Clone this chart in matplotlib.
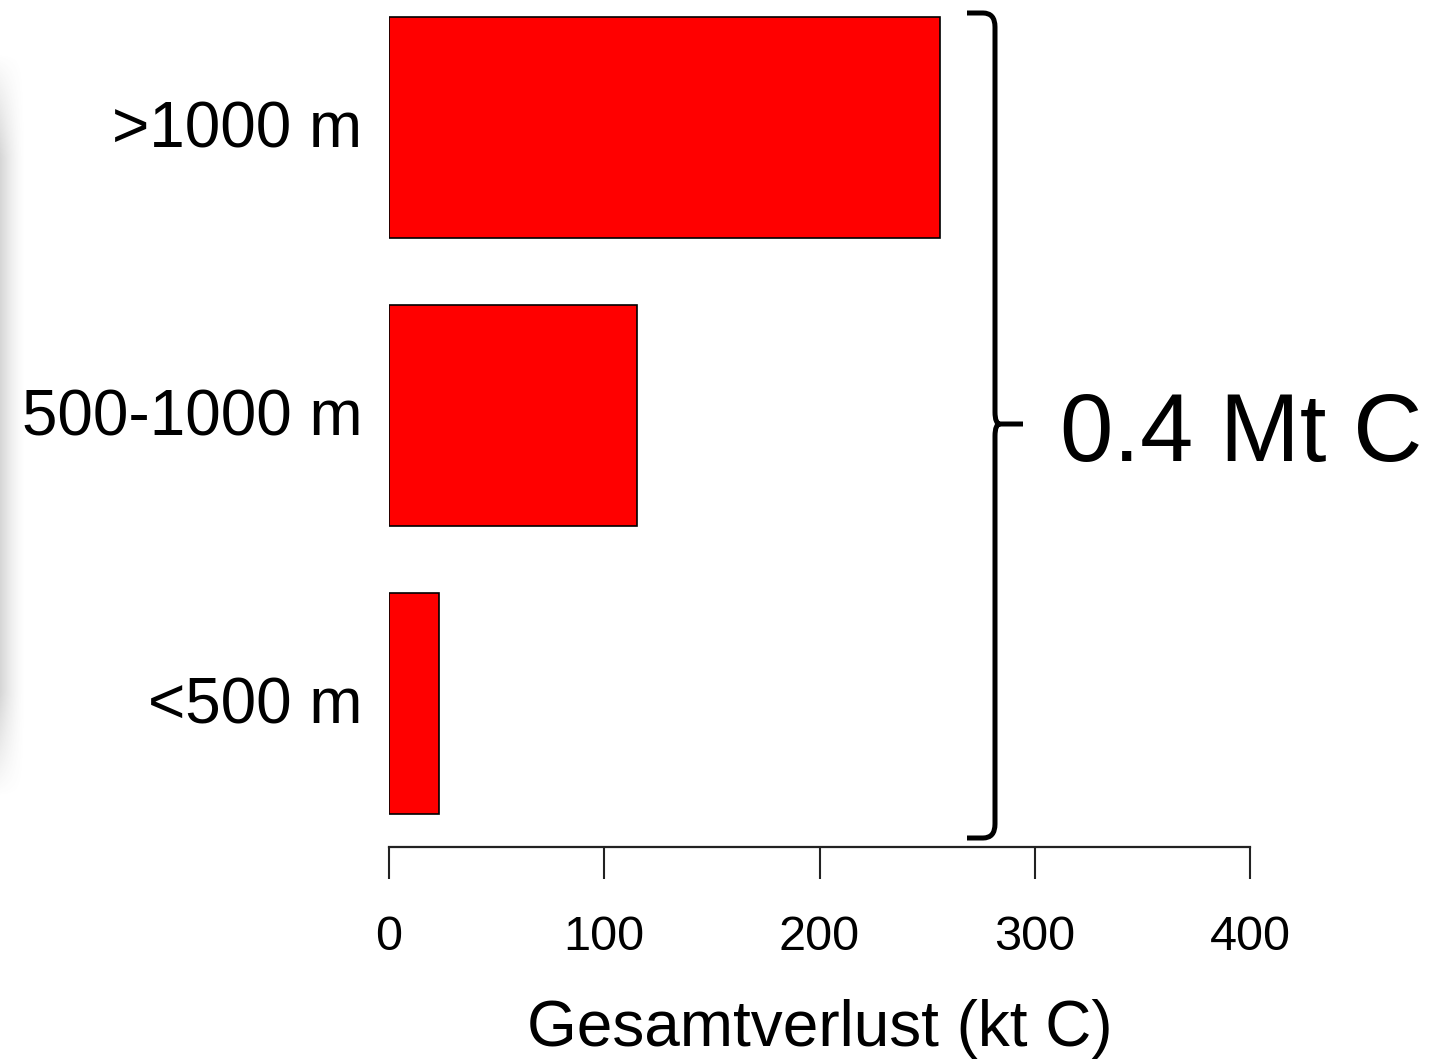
import matplotlib
matplotlib.use("Agg")
import matplotlib.pyplot as plt
import matplotlib.transforms as mtransforms
import numpy as np
from matplotlib.path import Path
from matplotlib.patches import PathPatch

categories = ["<500 m", "500-1000 m", ">1000 m"]
values = [23, 115, 256]
xticks = [0, 100, 200, 300, 400]
xlabel = "Gesamtverlust (kt C)"
total_label = "0.4 Mt C"

plt.rcParams['font.family'] = ['Liberation Sans', 'DejaVu Sans']

W, H = 1448, 1063
fig = plt.figure(figsize=(W / 100, H / 100), dpi=100)

ax = fig.add_axes([389 / W, 1 - 847 / H, 861 / W, 847 / H])
ypos = np.arange(len(categories))
ax.barh(ypos, values, height=0.767, color="#ff0000", edgecolor="black", linewidth=1.2)
ax.set_xlim(0, 400)
ax.set_ylim(-0.497, 2.444)
ax.set_yticks(ypos)
ax.set_yticklabels(categories, fontsize=46)
ax.tick_params(axis="y", length=0, pad=19)
shift = mtransforms.ScaledTranslation(0, 4 / 100, fig.dpi_scale_trans)
for lab in ax.get_yticklabels():
    lab.set_transform(lab.get_transform() + shift)
ax.set_xticks(xticks)
ax.set_xticklabels([str(t) for t in xticks], fontsize=35)
ax.tick_params(axis="x", direction="out", length=23, width=1.5, pad=26, color="#222222")
for s in ["top", "right", "left"]:
    ax.spines[s].set_visible(False)
ax.spines["bottom"].set_linewidth(1.6)
ax.spines["bottom"].set_color("#222222")
ax.set_xlabel(xlabel, fontsize=46, labelpad=28)

# overlay in pixel coordinates
ov = fig.add_axes([0, 0, 1, 1], zorder=5)
ov.set_xlim(0, W)
ov.set_ylim(H, 0)
ov.axis("off")
ov.patch.set_alpha(0)

# brace
verts = [
    (967, 13), (983, 13), (995, 13), (995, 27),
    (995, 412), (995, 424), (1000, 424), (1023, 424),
    (1000, 424), (995, 424), (995, 436),
    (995, 824), (995, 838), (983, 838), (967, 838),
]
codes = [Path.MOVETO, Path.LINETO, Path.CURVE3, Path.CURVE3,
         Path.LINETO, Path.CURVE3, Path.CURVE3, Path.LINETO,
         Path.MOVETO, Path.CURVE3, Path.CURVE3,
         Path.LINETO, Path.CURVE3, Path.CURVE3, Path.LINETO]
ov.add_patch(PathPatch(Path(verts, codes), fill=False, lw=3.6, edgecolor="black",
                       capstyle="butt", joinstyle="round"))
ov.text(1060, 436, total_label, fontsize=69, va="center", ha="left")

# faint gray strip on the left edge
gx = np.linspace(1, 0, 30)
gy = np.concatenate([np.linspace(0, 1, 15), np.ones(70), np.linspace(1, 0, 15)])
alpha = np.outer(gy, gx ** 1.5) * 0.25
img = np.zeros((len(gy), len(gx), 4))
img[..., :3] = 0.35
img[..., 3] = alpha
ov.imshow(img, extent=(0, 26, 800, 50), aspect="auto", interpolation="bilinear")
ov.set_xlim(0, W)
ov.set_ylim(H, 0)

fig.savefig("out.png", dpi=100)
